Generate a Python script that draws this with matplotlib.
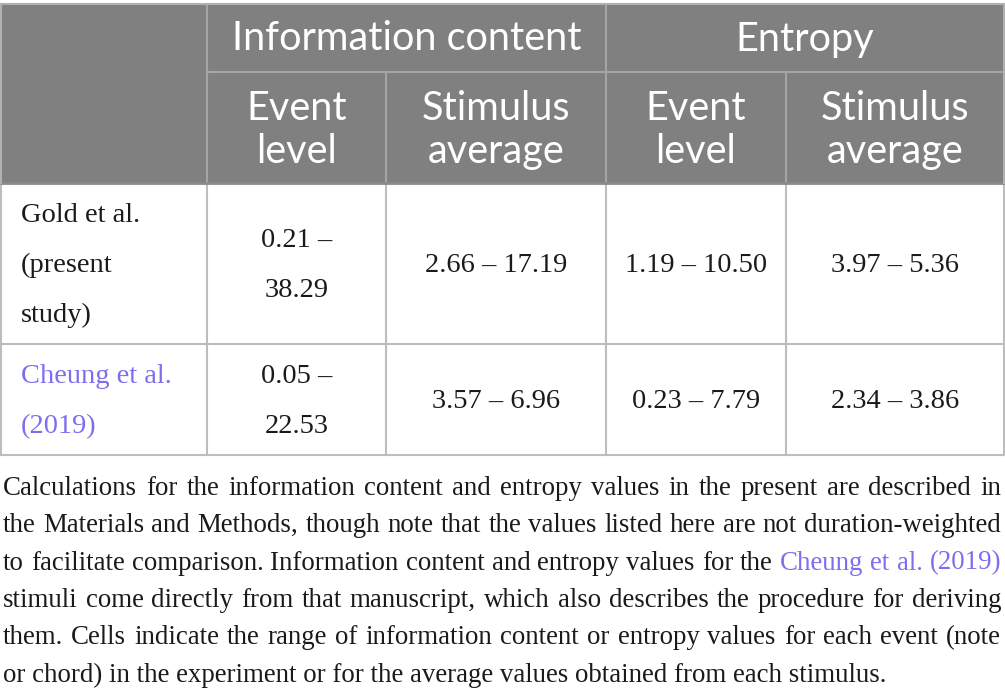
import matplotlib
matplotlib.use("Agg")
import matplotlib.pyplot as plt
from matplotlib.patches import Rectangle

# --- table content ---
GROUPS = ["Information content", "Entropy"]
SUBHEADERS = ["Event\nlevel", "Stimulus\naverage", "Event\nlevel", "Stimulus\naverage"]
ROW_LABELS = ["Gold et al.\n(present\nstudy)", "Cheung et al.\n(2019)"]
ROW_IS_LINK = [False, True]
IC_EVENT = ["0.21 –\n38.29", "0.05 –\n22.53"]
IC_STIM = ["2.66 – 17.19", "3.57 – 6.96"]
ENT_EVENT = ["1.19 – 10.50", "0.23 – 7.79"]
ENT_STIM = ["3.97 – 5.36", "2.34 – 3.86"]

LINK_TEXT = "Cheung et al. (2019)"
CAPTION_LINES = [
    "Calculations for the information content and entropy values in the present are described in",
    "the Materials and Methods, though note that the values listed here are not duration-weighted",
    "to facilitate comparison. Information content and entropy values for the Cheung et al. (2019)",
    "stimuli come directly from that manuscript, which also describes the procedure for deriving",
    "them. Cells indicate the range of information content or entropy values for each event (note",
    "or chord) in the experiment or for the average values obtained from each stimulus.",
]

# --- layout (pixels) ---
W, H = 1005, 695
COL_X = [1, 207, 386, 606, 786, 1004]
Y_TOP, Y_H1, Y_H2 = 4, 72, 183
ROW_Y = [183, 344, 455]
CAP_X0, CAP_X1 = 3, 1001
CAP_BASE0, CAP_STEP = 495, 37.3

HEADER_BG = "#808080"
HEADER_LINE = "#a5a5a5"
GRID = "#bdbdbd"
TEXT = "#1a1a1a"
LINK = "#7b6ff0"
SANS = ["Lato", "DejaVu Sans"]
SERIF = ["Liberation Serif", "DejaVu Serif"]
HEAD_FS = 28.5
BODY_FS = 20.5
CAP_FS = 19.4

fig = plt.figure(figsize=(W / 100, H / 100), dpi=100)
ax = fig.add_axes([0, 0, 1, 1])
ax.set_xlim(0, W)
ax.set_ylim(H, 0)
ax.axis("off")

# header block
ax.add_patch(Rectangle((COL_X[0], Y_TOP), COL_X[-1] - COL_X[0], Y_H2 - Y_TOP,
                       facecolor=HEADER_BG, edgecolor="none"))
ax.plot([COL_X[1], COL_X[-1]], [Y_H1, Y_H1], color=HEADER_LINE, lw=1.5)
ax.plot([COL_X[1], COL_X[1]], [Y_TOP, Y_H2], color=HEADER_LINE, lw=1.5)
ax.plot([COL_X[3], COL_X[3]], [Y_TOP, Y_H2], color=HEADER_LINE, lw=1.5)
for c in (2, 4):
    ax.plot([COL_X[c], COL_X[c]], [Y_H1, Y_H2], color=HEADER_LINE, lw=1.5)

# outer border on header top / sides
ax.plot([COL_X[0], COL_X[-1]], [Y_TOP, Y_TOP], color="#b0b0b0", lw=1.5)

# body grid
for x in COL_X:
    ax.plot([x, x], [ROW_Y[0], ROW_Y[-1]], color=GRID, lw=1.5)
for y in ROW_Y[1:]:
    ax.plot([COL_X[0], COL_X[-1]], [y, y], color=GRID, lw=1.5)
ax.plot([COL_X[0], COL_X[-1]], [Y_H2, Y_H2], color="#8a8a8a", lw=2)
for x in (COL_X[0], COL_X[-1]):
    ax.plot([x, x], [Y_TOP, Y_H2], color="#b0b0b0", lw=1.5)

# header text
for g, name in enumerate(GROUPS):
    xc = (COL_X[1 + 2 * g] + COL_X[3 + 2 * g]) / 2
    ax.text(xc, (Y_TOP + Y_H1) / 2 + 1, name, ha="center", va="center",
            color="white", fontsize=HEAD_FS, family=SANS)
for i, name in enumerate(SUBHEADERS):
    xc = (COL_X[1 + i] + COL_X[2 + i]) / 2
    ax.text(xc, (Y_H1 + Y_H2) / 2 + 2.5, name, ha="center", va="center",
            color="white", fontsize=HEAD_FS, family=SANS, linespacing=1.17)

# body text
cols = [IC_EVENT, IC_STIM, ENT_EVENT, ENT_STIM]
for r, label in enumerate(ROW_LABELS):
    yc = (ROW_Y[r] + ROW_Y[r + 1]) / 2 + 2
    ax.text(21, yc, label, ha="left", va="center", fontsize=BODY_FS,
            family=SERIF, color=LINK if ROW_IS_LINK[r] else TEXT,
            linespacing=2.3)
    for c, vals in enumerate(cols):
        xc = (COL_X[1 + c] + COL_X[2 + c]) / 2
        ax.text(xc, yc, vals[r], ha="center", va="center", fontsize=BODY_FS,
                family=SERIF, color=TEXT, linespacing=2.3)

# caption, justified like the source
renderer = fig.canvas.get_renderer()


def word_width(s):
    t = ax.text(0, 0, s, fontsize=CAP_FS, family=SERIF)
    w = t.get_window_extent(renderer).width
    t.remove()
    return w


for i, line in enumerate(CAPTION_LINES):
    y = CAP_BASE0 + i * CAP_STEP
    link_words = LINK_TEXT.split() if LINK_TEXT in line else []
    words = line.split()
    colors = [TEXT] * len(words)
    if link_words:
        colors[-len(link_words):] = [LINK] * len(link_words)
    if i == len(CAPTION_LINES) - 1:
        ax.text(CAP_X0, y, line, ha="left", va="baseline", fontsize=CAP_FS,
                family=SERIF, color=TEXT)
        continue
    widths = [word_width(w) for w in words]
    gap = (CAP_X1 - CAP_X0 - sum(widths)) / (len(words) - 1)
    x = CAP_X0
    for w, wd, col in zip(words, widths, colors):
        ax.text(x, y, w, ha="left", va="baseline", fontsize=CAP_FS,
                family=SERIF, color=col)
        x += wd + gap

fig.savefig("out.png", dpi=100)
